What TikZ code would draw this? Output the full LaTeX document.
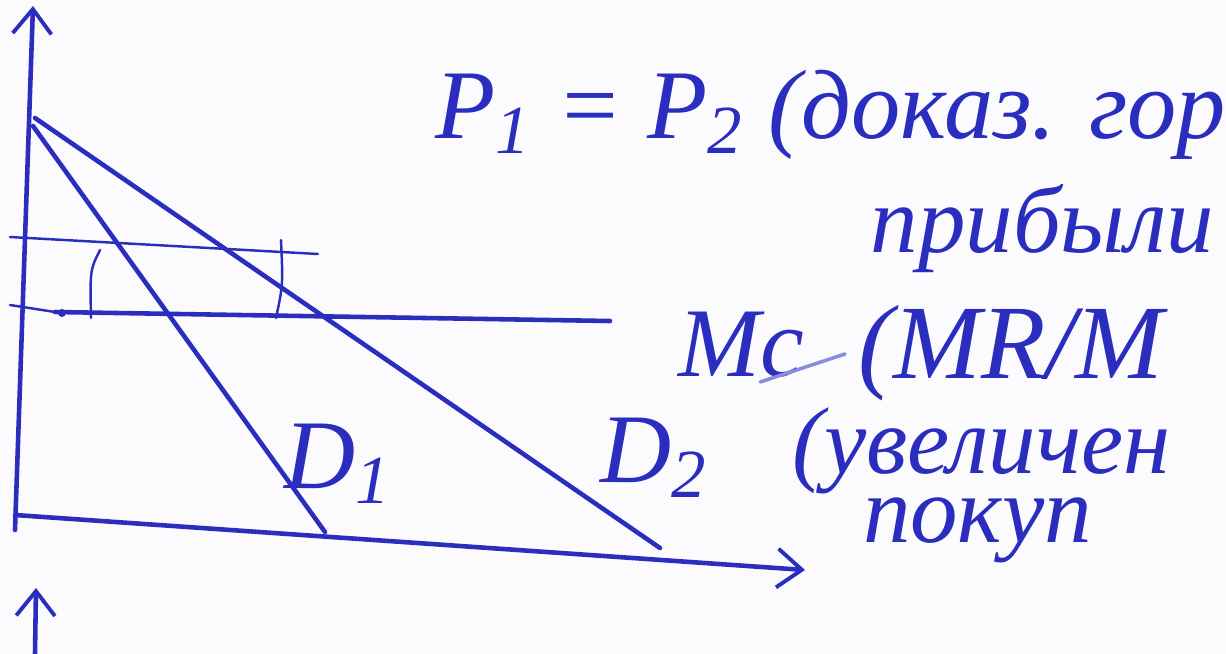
\documentclass[tikz,border=0pt]{standalone}
\usepackage{fontspec}
\setmainfont{Liberation Serif}
\usepackage{tikz}
\usetikzlibrary{arrows.meta, positioning}
\definecolor{ink}{HTML}{2A2DBE}
\definecolor{paper}{HTML}{FBFBFE}

\tikzset{
  pen/.style={draw=ink, line width=1.3pt, line cap=round},
  thinpen/.style={draw=ink, line width=0.7pt, line cap=round},
  hand/.style={text=ink, font=\itshape, inner sep=0pt, anchor=base west},
  axisarrow/.style={-{Straight Barb[length=7pt, width=11pt, line width=1.1pt]}}
}

\begin{document}
\begin{tikzpicture}[x=0.01cm, y=-0.01cm]
    % Paper and frame
    \fill[paper] (0,0) rectangle (1226,654);
    \useasboundingbox (0,0) rectangle (1226,654);

    % Axes
    \coordinate (O) at (15,530);
    \coordinate (Ytop) at (33,6);
    \coordinate (Xstart) at (15,515);
    \coordinate (Xend) at (805,570);
    \draw[pen, axisarrow] (O) -- (Ytop);
    \draw[pen, axisarrow] (Xstart) -- (Xend);

    % Axis of the next graph below
    \coordinate (Ynext) at (35,654);
    \coordinate (Ynexttop) at (36,588);
    \draw[pen, axisarrow] (Ynext) -- (Ynexttop);

    % Demand curves
    \coordinate (D1a) at (33,126);
    \coordinate (D1b) at (325,532);
    \coordinate (D2a) at (35,118);
    \coordinate (D2b) at (660,548);
    \draw[pen] (D1a) -- (D1b);
    \draw[pen] (D2a) -- (D2b);

    % Price line and MC line
    \coordinate (Pl) at (10,237);
    \coordinate (Pr) at (318,254);
    \coordinate (MCl) at (10,305);
    \coordinate (MCm) at (55,312);
    \coordinate (MCr) at (610,321);
    \draw[thinpen] (Pl) -- (Pr);
    \draw[thinpen] (MCl) -- (MCm);
    \draw[pen] (MCm) -- (MCr);
    \fill[ink] (62,313) circle (4);

    % Angle marks between the lines
    \coordinate (A1t) at (100,250);
    \coordinate (A1b) at (91,318);
    \coordinate (A2t) at (281,240);
    \coordinate (A2b) at (276,318);
    \draw[thinpen] (A1t) .. controls (90,270) .. (A1b);
    \draw[thinpen] (A2t) .. controls (283,285) .. (A2b);

    % Curve labels
    \node[hand, font=\itshape\fontsize{28}{28}\selectfont] (labD1) at (284,488) {D\textsubscript{1}};
    \node[hand, font=\itshape\fontsize{28}{28}\selectfont] (labD2) at (600,482) {D\textsubscript{2}};
    \node[hand, font=\itshape\fontsize{28}{28}\selectfont] (labMC) at (678,376) {Mc};
    \draw[draw=ink!55, line width=1pt, line cap=round] (labMC.base east) ++(-45,6) coordinate (ul1) -- (845,354);

    % Notes on the right
    \node[hand, font=\itshape\fontsize{28}{28}\selectfont] (note1) at (435,138) {P\textsubscript{1} = P\textsubscript{2} (доказ. гор};
    \node[hand, font=\itshape\fontsize{27}{27}\selectfont] (note2) at (870,252) {прибыли};
    \node[hand, font=\itshape\fontsize{30}{30}\selectfont] (note3) at (858,378) {(MR/M};
    \node[hand, font=\itshape\fontsize{27}{18.5}\selectfont, align=left] (note4) at (792,542)
      {(увеличен\\\hspace*{20pt}покуп};
\end{tikzpicture}
\end{document}
